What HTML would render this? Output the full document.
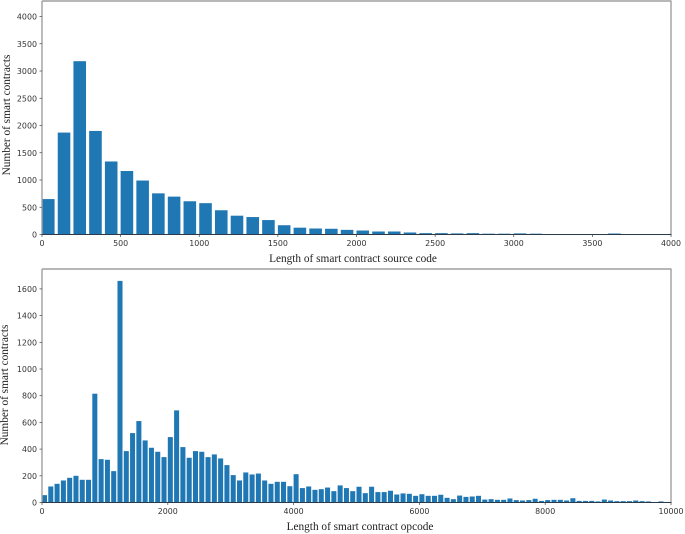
<!DOCTYPE html>
<html>
<head>
<meta charset="utf-8">
<style>
html,body{margin:0;padding:0;background:#fff;width:685px;height:534px;overflow:hidden}
svg{display:block;filter:blur(0.35px)}
.tick{font-family:"DejaVu Sans",sans-serif;font-size:7.9px;fill:#333}
.label{font-family:"Liberation Serif",serif;font-size:11.3px;fill:#222}
</style>
</head>
<body>
<svg id="chart" width="685" height="534" viewBox="0 0 685 534" xmlns="http://www.w3.org/2000/svg"></svg>
<script>
const sourceCounts = [650,1870,3180,1900,1340,1165,990,755,695,610,575,445,345,320,265,170,125,110,105,85,73,55,55,37,25,25,20,25,15,15,20,15,6,5,4,4,18,5,4,3];
const sourceXTicks = [0,500,1000,1500,2000,2500,3000,3500,4000];
const sourceYTicks = [0,500,1000,1500,2000,2500,3000,3500,4000];
const opcodeCounts = [55,120,140,165,185,200,170,170,815,325,320,235,1660,385,520,610,465,410,380,340,490,690,415,335,385,380,340,360,330,280,205,165,225,210,217,165,140,155,155,122,212,108,120,95,100,112,85,128,108,85,118,70,118,78,78,88,60,68,65,50,62,50,50,58,35,25,52,42,45,50,22,25,20,20,30,18,15,18,28,12,18,20,20,15,32,12,12,12,8,22,15,10,10,10,15,10,8,2,8,2];
const opcodeXTicks = [0,2000,4000,6000,8000,10000];
const opcodeYTicks = [0,200,400,600,800,1000,1200,1400,1600];

const NS = 'http://www.w3.org/2000/svg';
const svg = document.getElementById('chart');

function make(tag, attrs, parent) {
  const el = document.createElementNS(NS, tag);
  for (const k in attrs) el.setAttribute(k, attrs[k]);
  parent.appendChild(el);
  return el;
}

function drawPanel(cfg) {
  const g = make('g', {}, svg);
  
  

  const xScale = v => cfg.left + (v / cfg.xMax) * (cfg.right - cfg.left);
  const yScale = v => cfg.base - v * cfg.pxPerUnit;

  cfg.counts.forEach((c, i) => {
    const x0 = xScale(i * cfg.bin);
    const x1 = xScale((i + 0.8) * cfg.bin);
    const bar = make('rect', {x: x0, y: yScale(c), width: x1 - x0, height: cfg.base - yScale(c), fill: '#1f77b4'}, g);
    
    
  });

  const spineTop = make('line', {x1: cfg.left, x2: cfg.right + 0.5, y1: cfg.top, y2: cfg.top, stroke: '#6f6f6f', 'stroke-width': 1}, g);
  
  
  const spineRight = make('line', {x1: cfg.right, x2: cfg.right, y1: cfg.top, y2: cfg.base, stroke: '#a0a0a0', 'stroke-width': 1.4}, g);
  
  
  const spineLeft = make('line', {x1: cfg.left, x2: cfg.left, y1: cfg.top, y2: cfg.base, stroke: '#a0a0a0', 'stroke-width': 1.4}, g);
  
  
  const spineBottom = make('line', {x1: cfg.left, x2: cfg.right + 0.5, y1: cfg.base, y2: cfg.base, stroke: '#2a3a48', 'stroke-width': 1}, g);
  
  

  cfg.xTicks.forEach(t => {
    const x = xScale(t);
    const mark = make('line', {x1: x, x2: x, y1: cfg.base, y2: cfg.base + 2.5, stroke: '#444', 'stroke-width': 0.7}, g);
    
    
    const label = make('text', {x: x, y: cfg.base + 11.5, 'text-anchor': 'middle', class: 'tick'}, g);
    
    
    label.textContent = t;
  });

  cfg.yTicks.forEach(t => {
    const y = yScale(t);
    const mark = make('line', {x1: cfg.left - 2.5, x2: cfg.left, y1: y, y2: y, stroke: '#444', 'stroke-width': 0.7}, g);
    
    
    const label = make('text', {x: cfg.left - 5, y: y + 3, 'text-anchor': 'end', class: 'tick'}, g);
    
    
    label.textContent = t;
  });

  const xTitle = make('text', {x: cfg.xTitleX, y: cfg.xTitleY, 'text-anchor': 'middle', class: 'label'}, g);
  
  
  xTitle.textContent = cfg.xTitle;

  const yTitle = make('text', {x: 0, y: 0, 'text-anchor': 'middle', class: 'label', transform: 'translate(' + cfg.yTitleX + ',' + cfg.yTitleY + ') rotate(-90)'}, g);
  
  
  yTitle.textContent = cfg.yTitle;
}

drawPanel({
  name: 'source-code-length-histogram',
  counts: sourceCounts, xTicks: sourceXTicks, yTicks: sourceYTicks,
  bin: 100, xMax: 4000, left: 42, right: 671, top: 1, base: 234.5, pxPerUnit: 0.0545,
  xTitle: 'Length of smart contract source code', xTitleX: 353, xTitleY: 262,
  yTitle: 'Number of smart contracts', yTitleX: 10, yTitleY: 115
});

drawPanel({
  name: 'opcode-length-histogram',
  counts: opcodeCounts, xTicks: opcodeXTicks, yTicks: opcodeYTicks,
  bin: 100, xMax: 10000, left: 42, right: 671, top: 269, base: 502.5, pxPerUnit: 0.1335,
  xTitle: 'Length of smart contract opcode', xTitleX: 360, xTitleY: 530,
  yTitle: 'Number of smart contracts', yTitleX: 8, yTitleY: 385
});
</script>
</body>
</html>
